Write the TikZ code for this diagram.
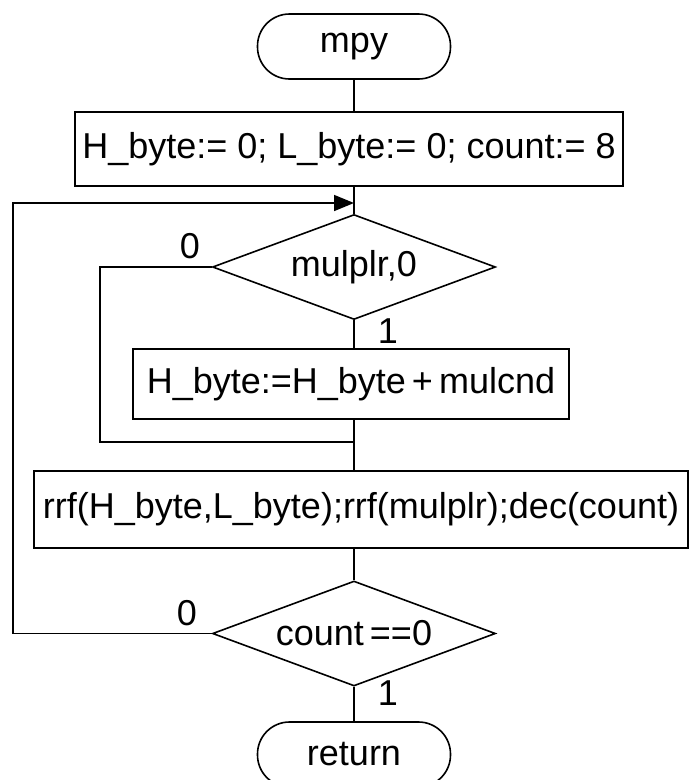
\documentclass[tikz,border=0pt]{standalone}
\usepackage{fontspec}
\setmainfont{Liberation Sans}
\usetikzlibrary{shapes.geometric,arrows.meta}
\begin{document}
\begin{tikzpicture}[x=1pt,y=-1pt,line width=1.6pt,
  every node/.style={font=\fontsize{36}{42}\selectfont},
  terminal/.style={draw,rectangle,rounded corners=32pt,minimum width=193pt,minimum height=65pt,inner sep=0pt},
  procbox/.style={draw,rectangle,inner sep=0pt},
  decision/.style={draw,diamond,aspect=2.7,inner sep=0pt,minimum width=283pt,minimum height=105pt},
  branch/.style={inner sep=0pt},
  looparrow/.style={-{Triangle[length=20pt,width=16pt]}}]
\useasboundingbox (0,0) rectangle (690,780);

% flowchart blocks
\node[terminal] (start) at (354,46.5) {mpy};
\node[procbox,minimum width=548pt,minimum height=74pt] (init) at (349,149) {H\_byte:= 0; L\_byte:= 0; count:= 8};
\node[decision] (bit) at (354,267) {mulplr,0};
\node[procbox,minimum width=436pt,minimum height=70pt] (add) at (351,384) {H\_byte:=H\_byte\,+\,mulcnd};
\node[procbox,minimum width=654pt,minimum height=77pt] (shift) at (361,509.5) {rrf(H\_byte,L\_byte);rrf(mulplr);dec(count)};
\node[decision] (test) at (354,633.5) {count\,==0};
\node[terminal] (ret) at (354,754.5) {return};

% branch labels
\node[branch] (zeroA) at (190,246) {0};
\node[branch] (oneA) at (388,331) {1};
\node[branch] (zeroB) at (187,613) {0};
\node[branch] (oneB) at (388,693) {1};

% helper points for the loops
\coordinate (loopin) at (354,203);
\coordinate (merge) at (354,442);
\coordinate (outerx) at (13,0);
\coordinate (innerx) at (100,0);

% main flow
\draw (start.south) -- (start.south |- init.north);
\draw (init.south -| start) -- (bit.north);
\draw (bit.south) -- (bit.south |- add.north);
\draw (add.south -| bit) -- (bit |- shift.north);
\draw (shift.south -| test) -- (test.north);
\draw (test.south) -- (ret.north);

% bypass of the addition when the bit is 0
\draw (bit.west) -- (bit.west -| innerx) -- (innerx |- merge) -- (merge);

% loop back while count is not zero
\draw[looparrow] (test.west) -- (test.west -| outerx) -- (outerx |- loopin) -- (loopin);
\end{tikzpicture}
\end{document}
